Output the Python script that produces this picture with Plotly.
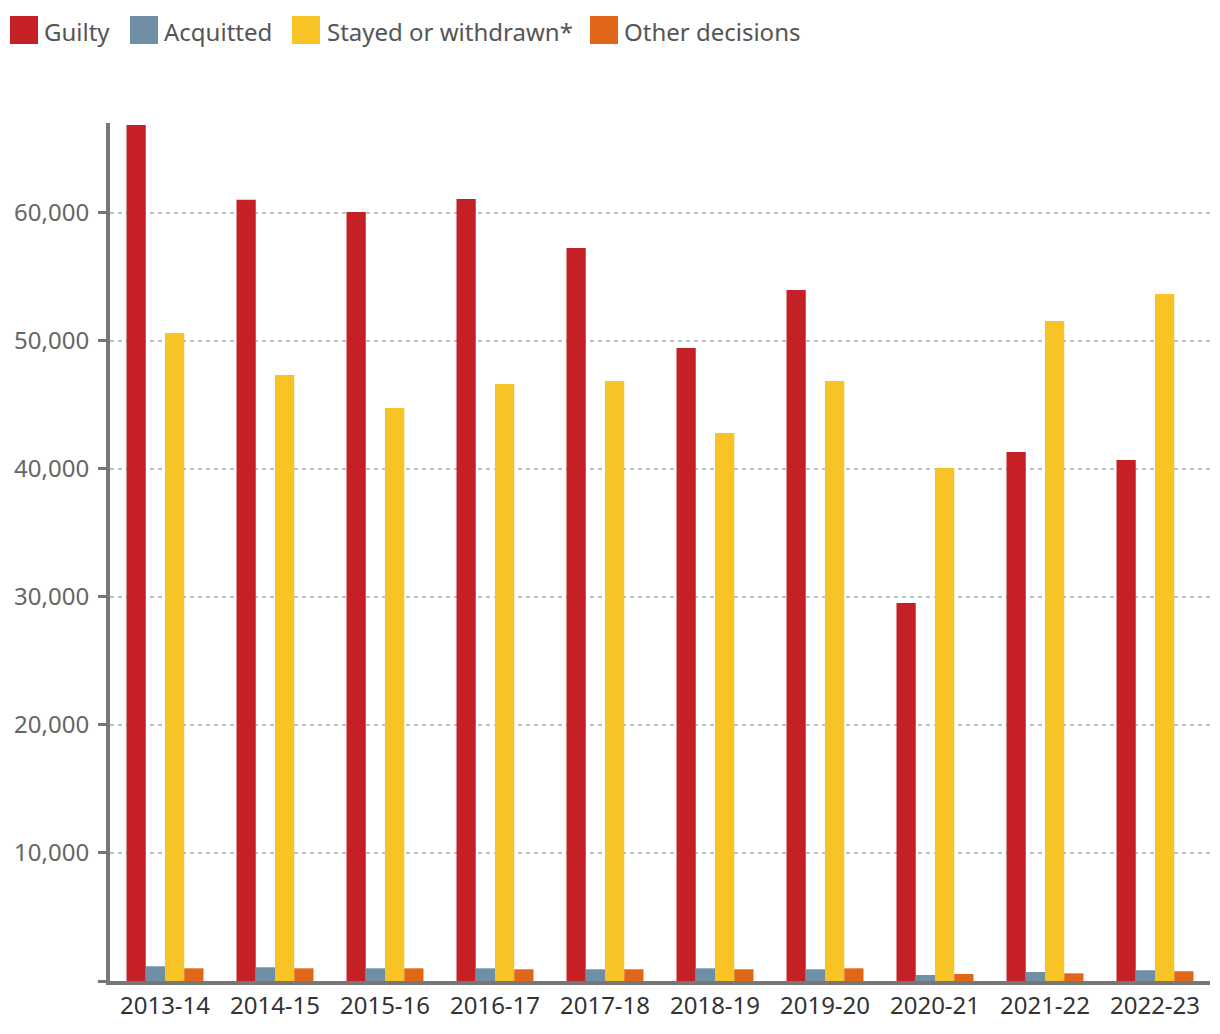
import plotly.graph_objects as go

years = ["2013-14", "2014-15", "2015-16", "2016-17", "2017-18",
         "2018-19", "2019-20", "2020-21", "2021-22", "2022-23"]
guilty = [66850, 61000, 60050, 61070, 57240, 49430, 53960, 29510, 41300, 40680]
acquitted = [1150, 1070, 990, 990, 915, 990, 915, 470, 700, 840]
stayed = [50600, 47320, 44740, 46620, 46850, 42790, 46850, 40050, 51540, 53650]
other = [990, 990, 990, 915, 915, 915, 990, 550, 600, 760]

series_names = ["Guilty", "Acquitted", "Stayed or withdrawn*", "Other decisions"]
series_values = [guilty, acquitted, stayed, other]
colors = ["#C52026", "#6E8FA5", "#F8C325", "#E06618"]

ytick_vals = [0, 10000, 20000, 30000, 40000, 50000, 60000]
ytick_text = ["", "10,000", "20,000", "30,000", "40,000", "50,000", "60,000"]

FONT = "Noto Sans"

fig = go.Figure()
for name, vals, col in zip(series_names, series_values, colors):
    fig.add_trace(go.Bar(x=years, y=vals, name=name, marker_color=col,
                         marker_line_width=0, showlegend=False))

# page has an 8px body margin; keep the figure inside the window (no scrollbars)
OFF = 8
W, H = 1220 - 2 * OFF, 1034 - 2 * OFF
PL, PR, PT, PB = 110, 1210, 123, 981   # plot area in page coordinates
def px(x):
    return (x - PL) / (PR - PL)
def py(y):
    return (PB - y) / (PB - PT)

legend_items = [(10, 44), (130, 164), (292, 327), (590, 624)]
for (sx, tx), name, col in zip(legend_items, series_names, colors):
    fig.add_shape(type="rect", xref="paper", yref="paper",
                  x0=px(sx), x1=px(sx + 28), y0=py(44), y1=py(16),
                  fillcolor=col, line_width=0)
    fig.add_annotation(x=px(tx - 2), y=py(31), xref="paper", yref="paper",
                       text=name, showarrow=False, xanchor="left", yanchor="middle",
                       font=dict(family=FONT, size=24, color="#555555"))

fig.update_layout(
    width=W, height=H,
    margin=dict(l=PL - OFF, r=W - (PR - OFF), t=PT - OFF, b=H - (PB - OFF), pad=0),
    paper_bgcolor="white", plot_bgcolor="white",
    barmode="group", bargap=0.3, bargroupgap=0,
    font=dict(family=FONT, size=24, color="#333333"),
)
fig.update_xaxes(showline=True, linecolor="#777777", linewidth=4,
                 ticks="", showgrid=False,
                 tickfont=dict(family=FONT, size=24, color="#333333"))
fig.update_yaxes(range=[0, 67000], tickvals=ytick_vals, ticktext=ytick_text,
                 showline=True, linecolor="#777777", linewidth=4,
                 ticks="outside", ticklen=8, tickwidth=3, tickcolor="#777777",
                 ticklabelstandoff=4,
                 showgrid=True, gridcolor="#B8C2C8", gridwidth=2, griddash="4px,4px",
                 zeroline=False,
                 tickfont=dict(family=FONT, size=24, color="#666666"))

fig.write_html("out.html")
